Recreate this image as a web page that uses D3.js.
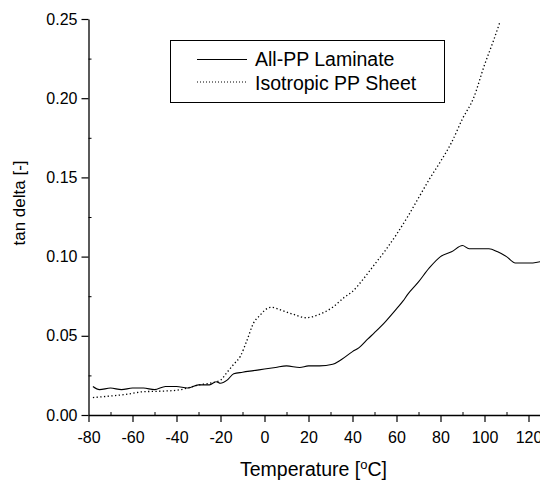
<!DOCTYPE html>
<html>
<head>
<meta charset="utf-8">
<script src="https://cdn.jsdelivr.net/npm/d3@7"></script>
<style>
  body { margin: 0; background: #fff; }
  svg { display: block; }
  text { font-family: "Liberation Sans", Arial, Helvetica, sans-serif; fill: #000; }
</style>
</head>
<body>
<div id="chart"></div>
<script>
// temperature [°C] and tan delta readings
const laminateTemp = [-78, -75, -70, -65, -60, -55, -50, -45, -40, -35, -30, -25, -22, -20, -17, -14, -10, -5, 0, 5, 10, 16, 20, 25, 31, 35, 40, 43, 47, 50, 55, 60, 63, 65, 70, 75, 80, 85, 90, 93, 97, 102, 106, 110, 114, 118, 122, 126];
const laminateTan  = [0.018, 0.016, 0.017, 0.016, 0.017, 0.017, 0.016, 0.018, 0.018, 0.017, 0.019, 0.019, 0.021, 0.020, 0.022, 0.026, 0.027, 0.028, 0.029, 0.030, 0.031, 0.030, 0.031, 0.031, 0.032, 0.035, 0.040, 0.0425, 0.048, 0.052, 0.059, 0.067, 0.072, 0.076, 0.084, 0.093, 0.100, 0.103, 0.107, 0.105, 0.105, 0.105, 0.103, 0.100, 0.096, 0.096, 0.096, 0.097];

const isoTemp = [-78, -70, -63, -55, -48, -40, -35, -30, -25, -20, -17, -14, -11, -8, -5, -2, 0, 3, 8, 13, 19, 25, 31, 36, 40, 45, 50, 55, 60, 65, 70, 75, 80, 85, 90, 95, 100, 104, 107];
const isoTan  = [0.011, 0.012, 0.013, 0.0147, 0.015, 0.0156, 0.017, 0.019, 0.020, 0.022, 0.027, 0.032, 0.037, 0.047, 0.058, 0.063, 0.066, 0.068, 0.066, 0.0636, 0.0614, 0.0636, 0.068, 0.074, 0.078, 0.086, 0.095, 0.104, 0.114, 0.125, 0.137, 0.149, 0.160, 0.172, 0.187, 0.200, 0.221, 0.236, 0.248];

const xTicks = [-80, -60, -40, -20, 0, 20, 40, 60, 80, 100, 120];
const yTicks = [0.00, 0.05, 0.10, 0.15, 0.20, 0.25];
const seriesNames = ["All-PP Laminate", "Isotropic PP Sheet"];

const W = 540, H = 480;

const svg = d3.select("#chart").append("svg")
    .attr("width", W)
    .attr("height", H);

const x = d3.scaleLinear().domain([-80, 125]).range([88.5, 539.5]);
const y = d3.scaleLinear().domain([0, 0.25]).range([415, 19]);

// minor ticks (inside)
svg.append("g")
    .attr("transform", `translate(0,${y(0)})`)
    .call(d3.axisBottom(x).tickValues(d3.range(-70, 126, 20)).tickSize(-3).tickFormat(""))
    .call(g => g.select(".domain").remove());
svg.append("g")
    .attr("transform", `translate(${x(-80)},0)`)
    .call(d3.axisLeft(y).tickValues([0.025, 0.075, 0.125, 0.175, 0.225]).tickSize(-3).tickFormat(""))
    .call(g => g.select(".domain").remove());

// major axes
const xAxis = svg.append("g")
    .attr("transform", `translate(0,${y(0)})`)
    .call(d3.axisBottom(x).tickValues(xTicks).tickSize(7).tickSizeOuter(0).tickPadding(10).tickFormat(d => String(d)));
const yAxis = svg.append("g")
    .attr("transform", `translate(${x(-80)},0)`)
    .call(d3.axisLeft(y).tickValues(yTicks).tickSize(7).tickSizeOuter(0).tickPadding(4).tickFormat(d3.format(".2f")));

[xAxis, yAxis].forEach(a => {
    a.selectAll("text").style("font-size", "16px").style("font-family", "'Liberation Sans', Arial, sans-serif");
    a.select(".domain").attr("stroke-width", 1.3);
    a.selectAll(".tick line").attr("stroke-width", 1.2);
});

// data lines
const line = d3.line()
    .x(d => x(d[0]))
    .y(d => y(d[1]))
    .curve(d3.curveMonotoneX);

svg.append("path")
    .datum(laminateTemp.map((t, i) => [t, laminateTan[i]]))
    .attr("fill", "none")
    .attr("stroke", "#000")
    .attr("stroke-width", 1.1)
    .attr("d", line);

svg.append("path")
    .datum(isoTemp.map((t, i) => [t, isoTan[i]]))
    .attr("fill", "none")
    .attr("stroke", "#000")
    .attr("stroke-width", 1.3)
    .attr("stroke-dasharray", "1.3,2.4")
    .attr("d", line);

// legend
const legend = svg.append("g");
legend.append("rect")
    .attr("x", 170.5).attr("y", 40.5)
    .attr("width", 274).attr("height", 62)
    .attr("fill", "#fff").attr("stroke", "#000").attr("stroke-width", 1);
legend.append("line")
    .attr("x1", 197).attr("x2", 247).attr("y1", 59.5).attr("y2", 59.5)
    .attr("stroke", "#000").attr("stroke-width", 1);
legend.append("line")
    .attr("x1", 197).attr("x2", 247).attr("y1", 82).attr("y2", 82)
    .attr("stroke", "#000").attr("stroke-width", 1).attr("stroke-dasharray", "1,2");
legend.append("text").attr("x", 255).attr("y", 66).style("font-size", "19.5px").text(seriesNames[0]);
legend.append("text").attr("x", 255).attr("y", 89.5).style("font-size", "19.5px").text(seriesNames[1]);

// axis titles
const xt = svg.append("text")
    .attr("x", 313.5).attr("y", 476)
    .attr("text-anchor", "middle")
    .style("font-size", "19.5px");
xt.append("tspan").text("Temperature [");
xt.append("tspan").attr("dy", -7).style("font-size", "13px").text("o");
xt.append("tspan").attr("dy", 7).text("C]");

svg.append("text")
    .attr("transform", "translate(25,203) rotate(-90)")
    .attr("text-anchor", "middle")
    .style("font-size", "17px")
    .text("tan delta [-]");
</script>
</body>
</html>
